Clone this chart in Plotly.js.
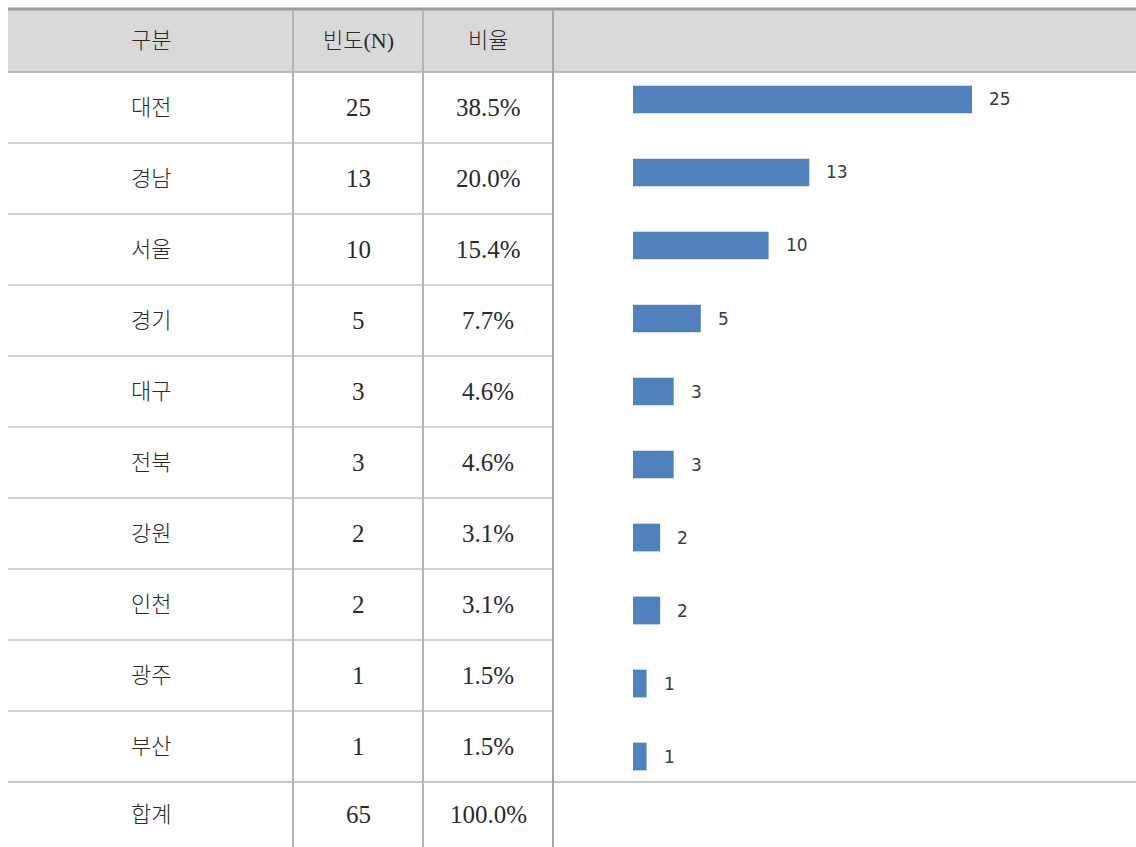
<!DOCTYPE html>
<html>
<head>
<meta charset="utf-8">
<script src="https://cdn.plot.ly/plotly-3.0.1.min.js"></script>
<style>
html,body{margin:0;padding:0;background:#fff;}
#chart{width:1136px;height:847px;}
</style>
</head>
<body>
<div id="chart"></div>
<script>
// ---- data ----
const headers = ['구분', '빈도(N)', '비율'];
const regions = ['대전', '경남', '서울', '경기', '대구', '전북', '강원', '인천', '광주', '부산'];
const counts = [25, 13, 10, 5, 3, 3, 2, 2, 1, 1];
const ratios = ['38.5%', '20.0%', '15.4%', '7.7%', '4.6%', '4.6%', '3.1%', '3.1%', '1.5%', '1.5%'];
const totalLabel = '합계';
const totalCount = 65;
const totalRatio = '100.0%';

// ---- geometry ----
const W = 1136, H = 847;
const px = x => x / W;
const py = y => 1 - y / H;
const colX = [8, 293, 423, 553, 1136];
const headTop = 10, headBot = 72, rowH = 71;
const rowTop = i => headBot + rowH * i;

const korFont = {family: '"Liberation Serif", "Noto Sans CJK KR", serif', size: 22, color: '#2a2a2a', weight: 300};
const numFont = {family: '"Liberation Serif", "Noto Sans CJK KR", serif', size: 25, color: '#2a2a2a'};

const shapes = [];
shapes.push({type: 'rect', xref: 'paper', yref: 'paper', x0: px(colX[0]), x1: px(colX[4]), y0: py(headTop), y1: py(headBot),
  fillcolor: '#d9d9d9', line: {width: 0}, layer: 'below'});
shapes.push({type: 'line', xref: 'paper', yref: 'paper', x0: px(colX[0]), x1: px(colX[4]), y0: py(headTop - 1), y1: py(headTop - 1),
  line: {color: '#9c9c9c', width: 3}});
shapes.push({type: 'line', xref: 'paper', yref: 'paper', x0: px(colX[0]), x1: px(colX[4]), y0: py(headBot), y1: py(headBot),
  line: {color: '#a9a9a9', width: 1.5}});
for (let i = 1; i < regions.length; i++) {
  shapes.push({type: 'line', xref: 'paper', yref: 'paper', x0: px(colX[0]), x1: px(colX[3]), y0: py(rowTop(i)), y1: py(rowTop(i)),
    line: {color: '#c4c4c4', width: 1.5}});
}
shapes.push({type: 'line', xref: 'paper', yref: 'paper', x0: px(colX[0]), x1: px(colX[4]), y0: py(rowTop(regions.length)), y1: py(rowTop(regions.length)),
  line: {color: '#b4b4b4', width: 1.5}});
[1, 2, 3].forEach(k => {
  shapes.push({type: 'line', xref: 'paper', yref: 'paper', x0: px(colX[k]), x1: px(colX[k]), y0: py(headTop), y1: py(H + 5),
    line: {color: k === 3 ? '#a6a6a6' : '#b4b4b4', width: 2}});
});

const annotations = [];
function cellText(text, col, yTop, yBot, font) {
  annotations.push({xref: 'paper', yref: 'paper', x: px((colX[col] + colX[col + 1]) / 2), y: py((yTop + yBot) / 2),
    text: String(text), showarrow: false, xanchor: 'center', yanchor: 'middle', font: font});
}
headers.forEach((h, c) => cellText(h, c, headTop, headBot, korFont));
regions.forEach((r, i) => {
  cellText(r, 0, rowTop(i), rowTop(i + 1), korFont);
  cellText(counts[i], 1, rowTop(i), rowTop(i + 1), numFont);
  cellText(ratios[i], 2, rowTop(i), rowTop(i + 1), numFont);
});
const totTop = rowTop(regions.length);
cellText(totalLabel, 0, totTop, H, korFont);
cellText(totalCount, 1, totTop, H, numFont);
cellText(totalRatio, 2, totTop, H, numFont);

regions.forEach((r, i) => {
  annotations.push({xref: 'x', yref: 'y', x: counts[i], y: r, text: String(counts[i]), showarrow: false,
    xanchor: 'left', yanchor: 'middle', xshift: 15,
    font: {family: '"DejaVu Sans", Verdana, sans-serif', size: 17, color: '#3a3a3a'}});
});

const bar = {
  type: 'bar', orientation: 'h', x: counts, y: regions,
  marker: {color: '#4f81bd', line: {width: 0}},
  hoverinfo: 'skip'
};

const layout = {
  width: W, height: H,
  margin: {l: 0, r: 0, t: 0, b: 0, pad: 0},
  paper_bgcolor: '#ffffff', plot_bgcolor: 'rgba(0,0,0,0)',
  showlegend: false,
  bargap: 0.62,
  xaxis: {domain: [px(633), px(633 + 36 * 13.56)], range: [0, 36], visible: false, fixedrange: true},
  yaxis: {domain: [py(793), py(63)], type: 'category', categoryorder: 'array', categoryarray: regions,
    autorange: 'reversed', visible: false, fixedrange: true},
  shapes: shapes,
  annotations: annotations
};

Plotly.newPlot('chart', [bar], layout, {displayModeBar: false, staticPlot: true});
</script>
</body>
</html>
